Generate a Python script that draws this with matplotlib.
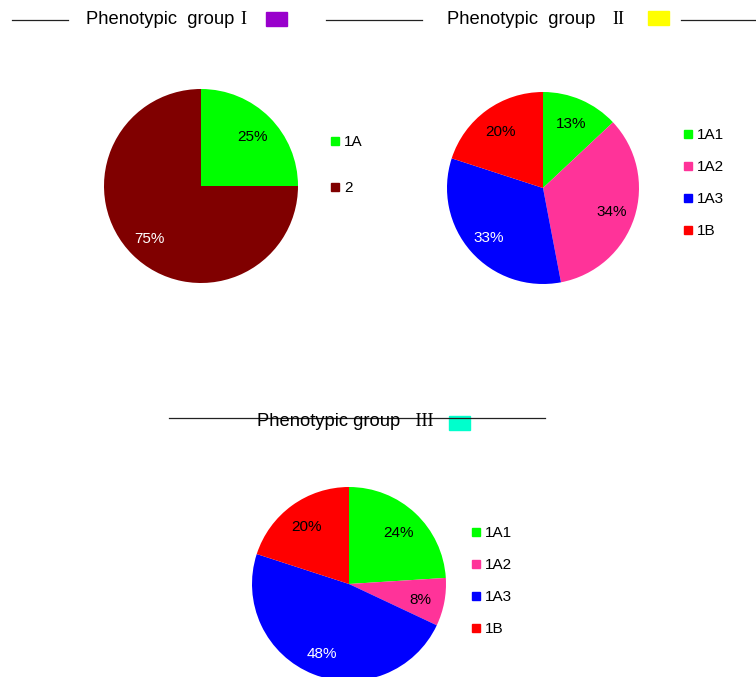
import matplotlib
matplotlib.use('Agg')
import matplotlib.pyplot as plt
from matplotlib.lines import Line2D
from matplotlib.patches import Rectangle
from matplotlib.transforms import ScaledTranslation

plt.rcParams['font.family'] = ['Liberation Sans', 'DejaVu Sans']

W, H = 756, 677

# data
labels1 = ['1A', '2']
vals1 = [25, 75]
cols1 = ['#00ff00', '#800000']

labels2 = ['1A1', '1A2', '1A3', '1B']
vals2 = [13, 34, 33, 20]
cols2 = ['#00ff00', '#ff3399', '#0000ff', '#ff0000']

labels3 = ['1A1', '1A2', '1A3', '1B']
vals3 = [24, 8, 48, 20]
cols3 = ['#00ff00', '#ff3399', '#0000ff', '#ff0000']

dark = ['#800000', '#0000ff']

fig = plt.figure(figsize=(W/100, H/100), dpi=100)

def px(x, y):
    return x/W, 1 - y/H

def pie(cx, cy, r, vals, cols, labels, legx, legy, lsp):
    ax = fig.add_axes([(cx-r)/W, 1-(cy+r)/H, 2*r/W, 2*r/H])
    wedges, texts, autotexts = ax.pie(vals, colors=cols, startangle=90, counterclock=False,
                                      autopct='%d%%', pctdistance=0.75,
                                      textprops={'fontsize': 11})
    down = ScaledTranslation(0, -2/100, fig.dpi_scale_trans)
    for w, t in zip(wedges, autotexts):
        t.set_transform(t.get_transform() + down)
        if w.get_facecolor()[:3] in [matplotlib.colors.to_rgb(c) for c in dark]:
            t.set_color('white')
    ax.set_xlim(-1, 1); ax.set_ylim(-1, 1)
    ax.set_aspect('auto')
    hs = [Line2D([], [], marker='s', ls='none', color=c, markersize=5.5) for c in cols]
    fig.legend(hs, labels, loc='upper left', bbox_to_anchor=px(legx, legy), frameon=False,
               fontsize=11, handletextpad=0.1, labelspacing=lsp, borderpad=0,
               handlelength=1.0, borderaxespad=0)

pie(201, 186, 97, vals1, cols1, labels1, 327, 135, 2.1)
pie(543, 188, 96, vals2, cols2, labels2, 680, 128, 1.18)
pie(349, 584, 97, vals3, cols3, labels3, 468, 526, 1.18)

def title(txt, num, tx, ty, sqx, sqy, sqc, lines, gap=6):
    t = fig.text(*px(tx, ty), txt, fontsize=13.2, va='center', ha='left')
    fig.canvas.draw()
    bb = t.get_window_extent()
    fig.text(bb.x1/W + gap/W, 1-ty/H, num, fontsize=13, va='center', ha='left',
             family='Liberation Serif')
    fig.patches.append(Rectangle(px(sqx, sqy+14), 21/W, 14/H, transform=fig.transFigure,
                                 color=sqc, figure=fig))
    for x0, x1, y in lines:
        fig.add_artist(Line2D([x0/W, x1/W], [1-y/H, 1-y/H], color='#222222', lw=0.9))

title('Phenotypic  group', 'I', 86, 20, 266, 12, '#9900cc', [(12, 68, 20), (326, 422, 20)])
title('Phenotypic  group ', 'II', 447, 20, 648, 11, '#ffff00', [(681, 756, 20)], gap=12)
title('Phenotypic group ', ' III', 257, 421, 449, 416, '#00ffcc', [(169, 545, 418)])

fig.savefig('out.png', dpi=100)
